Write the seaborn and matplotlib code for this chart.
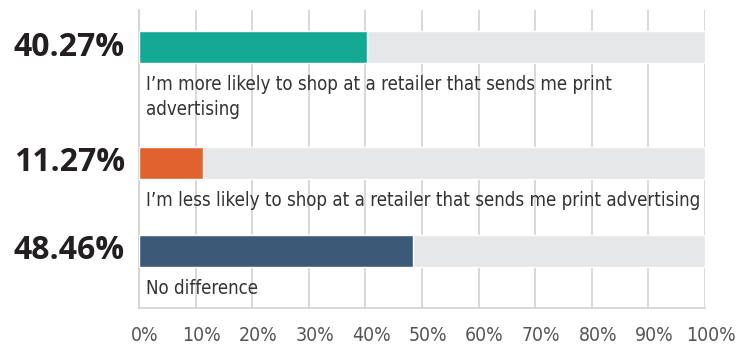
import matplotlib
matplotlib.use("Agg")
import matplotlib.pyplot as plt
import matplotlib.transforms as mtransforms
from matplotlib import font_manager as fm
import seaborn as sns
import pandas as pd

# ---- data ----
labels = [
    "I’m more likely to shop at a retailer that sends me print\nadvertising",
    "I’m less likely to shop at a retailer that sends me print advertising",
    "No difference",
]
values = [40.27, 11.27, 48.46]
value_labels = ["40.27%", "11.27%", "48.46%"]
colors = ["#14a994", "#e0622f", "#3c5a78"]
tick_values = [0, 10, 20, 30, 40, 50, 60, 70, 80, 90, 100]
tick_labels = [f"{t}%" for t in tick_values]

# ---- pick a narrow font if one is installed ----
def stretch_num(s):
    if isinstance(s, (int, float)):
        return s
    return fm.stretch_dict.get(s, 500)

best = None
for f in fm.fontManager.ttflist:
    if f.style != "normal":
        continue
    w = f.weight if isinstance(f.weight, int) else fm.weight_dict.get(f.weight, 400)
    if w not in (300, 350, 400):
        continue
    sn = stretch_num(f.stretch)
    named = any(k in f.name for k in ("Narrow", "Condensed"))
    score = (sn if not named else min(sn, 300))
    if score <= 400 and (best is None or score < best[0]):
        best = (score, f.name, f.stretch)
if best is not None:
    txt_font = fm.FontProperties(family=best[1], stretch=best[2], weight="normal")
else:
    txt_font = fm.FontProperties(family="Roboto", weight="normal")

# ---- layout ----
line_h = 0.318
bar_w = 0.364
pos = [0.0]
for i in range(1, len(labels)):
    pos.append(pos[-1] + 1 + line_h * labels[i - 1].count("\n"))

sns.set_theme(style="white")
plt.rcParams["font.family"] = ["DejaVu Sans"]

fig = plt.figure(figsize=(7.48, 3.47), dpi=100)
W, H = 748, 347
ax = fig.add_axes([139 / W, 1 - 308 / H, (705 - 139) / W, (308 - 10) / H])
renderer = fig.canvas.get_renderer()


def fit_size(text, target_px, base=14.0):
    t = fig.text(0, 0, text, fontproperties=txt_font, fontsize=base)
    w = t.get_window_extent(renderer).width
    t.remove()
    return base * target_px / w


label_size = min(fit_size(labels[1], 558), 21)
tick_size = min(fit_size("100%", 50), 16)

df = pd.DataFrame({"pos": pos, "value": values, "full": [100] * len(values), "label": labels})

sns.barplot(data=df, x="full", y="pos", orient="h", native_scale=True,
            color="#e6e7e9", width=bar_w, ax=ax, zorder=2, saturation=1)
sns.barplot(data=df, x="value", y="pos", hue="label", palette=colors, orient="h",
            native_scale=True, width=bar_w, ax=ax, legend=False, zorder=3, saturation=1)

ax.set_xlim(0, 100)
ax.set_ylim(pos[-1] + (308 - 251) / 88, -(47 - 10) / 88)
ax.set_xlabel("")
ax.set_ylabel("")
ax.set_yticks([])
ax.set_xticks(tick_values)
ax.set_xticklabels(tick_labels, fontproperties=txt_font, fontsize=tick_size, color="#555555")
ax.tick_params(axis="x", length=0, pad=13)
off = mtransforms.ScaledTranslation(6 / 100, 0, fig.dpi_scale_trans)
for lbl in ax.get_xticklabels():
    lbl.set_transform(lbl.get_transform() + off)

ax.set_axisbelow(True)
ax.grid(axis="x", color="#d2d2d2", lw=1.2)
ax.grid(axis="y", visible=False)
for s in ["top", "right"]:
    ax.spines[s].set_visible(False)
for s in ["left", "bottom"]:
    ax.spines[s].set_color("#d2d2d2")
    ax.spines[s].set_linewidth(1.2)

for p, lab, vl in zip(pos, labels, value_labels):
    ax.annotate(lab, xy=(0, p + bar_w / 2), xycoords="data", xytext=(7, -12),
                textcoords="offset pixels", va="top", ha="left",
                fontproperties=txt_font, fontsize=label_size,
                color="#333333", linespacing=1.4, annotation_clip=False, clip_on=False)
    ax.annotate(vl, xy=(14, p), xycoords=("figure pixels", "data"), va="center",
                ha="left", fontsize=23, fontweight="bold",
                family=["Open Sans", "DejaVu Sans"], color="#231f20",
                annotation_clip=False, clip_on=False)

fig.savefig("out.png", dpi=100)
